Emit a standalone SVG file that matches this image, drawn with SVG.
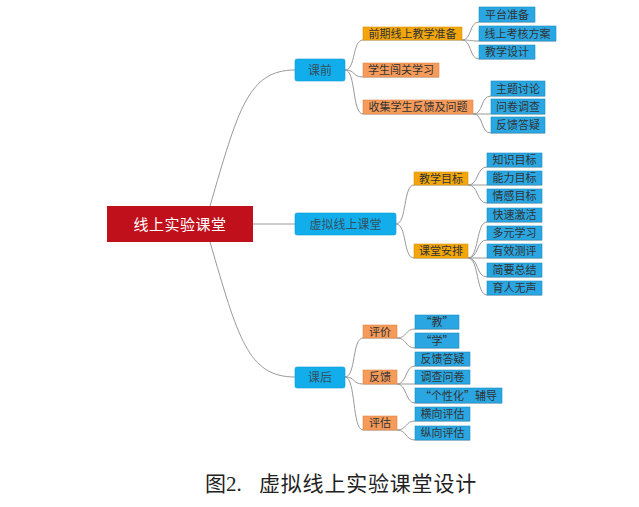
<svg xmlns="http://www.w3.org/2000/svg" width="639" height="507" viewBox="0 0 639 507">
<style>
text{font-family:"Noto Sans CJK SC","Noto Sans",sans-serif;text-anchor:middle;fill:#333;font-size:11px}
.main rect{fill:#12AEEC;stroke:#0E9BD4;stroke-width:0.6}
.gold rect{fill:#F2A60C;stroke:#D99200;stroke-width:0.6}
.org rect{fill:#F69B5A;stroke:#E0884A;stroke-width:0.6}
.leaf rect{fill:#2AA7E2;stroke:#1D8EC4;stroke-width:0.6}
.main text{font-size:12px;fill:#34505f}
#connectors path{fill:none;stroke:#9a9a9a;stroke-width:1}
</style>
<rect width="639" height="507" fill="#fff"/>
<g id="connectors">
<path d="M210 206 C238 110 248 70 295 70"/>
<path d="M210 242 C238 338 248 377 295 377"/>
<path d="M253 224 L295 224"/>
<path d="M345 70 C356 70 352 40 363 40 L462 40"/>
<path d="M345 70 C356 70 352 77 363 77 L439 77"/>
<path d="M345 70 C356 70 352 114 363 114 L473 114"/>
<path d="M462 40 C472 40 469 22 479 22 L535 22"/>
<path d="M462 40 C472 40 469 41 479 41 L556 41"/>
<path d="M462 40 C472 40 469 59 479 59 L535 59"/>
<path d="M473 114 C484 114 480 96 491 96 L545 96"/>
<path d="M473 114 L545 114"/>
<path d="M473 114 C484 114 480 133 491 133 L545 133"/>
<path d="M396 224 C407 224 403 185 414 185 L468 185"/>
<path d="M396 224 C407 224 403 258 414 258 L468 258"/>
<path d="M468 185 C479 185 476 167 487 167 L542 167"/>
<path d="M468 185 L542 185"/>
<path d="M468 185 C479 185 476 203 487 203 L542 203"/>
<path d="M468 258 C479 258 476 222 487 222 L542 222"/>
<path d="M468 258 C479 258 476 240 487 240 L542 240"/>
<path d="M468 258 L542 258"/>
<path d="M468 258 C479 258 476 277 487 277 L542 277"/>
<path d="M468 258 C479 258 476 295 487 295 L542 295"/>
<path d="M345 377 C356 377 352 338 363 338 L397 338"/>
<path d="M345 377 C356 377 352 384 363 384 L397 384"/>
<path d="M345 377 C356 377 352 430 363 430 L397 430"/>
<path d="M397 338 C407 338 405 329 415 329 L459 329"/>
<path d="M397 338 C407 338 405 348 415 348 L459 348"/>
<path d="M397 384 C407 384 405 366 415 366 L470 366"/>
<path d="M397 384 L470 384"/>
<path d="M397 384 C407 384 405 403 415 403 L502 403"/>
<path d="M397 430 C407 430 405 421 415 421 L470 421"/>
<path d="M397 430 C407 430 405 440 415 440 L470 440"/>
</g>
<g id="root"><rect x="107" y="206" width="146" height="36" fill="#C0101C"/><text x="180" y="229.5" style="font-size:15px;fill:#fff;letter-spacing:0.5px">线上实验课堂</text></g>
<g id="n-keqian" class="main"><rect x="295" y="59" width="50" height="22" rx="2"/><text x="320" y="74.5">课前</text></g>
<g id="n-xuni" class="main"><rect x="295" y="213" width="101" height="22" rx="2"/><text x="345.5" y="228.5">虚拟线上课堂</text></g>
<g id="n-kehou" class="main"><rect x="295" y="367" width="50" height="21" rx="2"/><text x="320" y="382">课后</text></g>
<g id="n-qianqi" class="gold"><rect x="363" y="27" width="99" height="13"/><text x="412.5" y="37.5">前期线上教学准备</text></g>
<g id="n-chuangguan" class="org"><rect x="363" y="63" width="76" height="14"/><text x="401" y="74">学生闯关学习</text></g>
<g id="n-shouji" class="org"><rect x="363" y="100" width="110" height="14"/><text x="418" y="111">收集学生反馈及问题</text></g>
<g id="n-pingtai" class="leaf"><rect x="479" y="7" width="56" height="15"/><text x="507" y="18.5">平台准备</text></g>
<g id="n-kaohe" class="leaf"><rect x="479" y="26" width="77" height="15"/><text x="517.5" y="37.5">线上考核方案</text></g>
<g id="n-sheji" class="leaf"><rect x="479" y="45" width="56" height="14"/><text x="507" y="56">教学设计</text></g>
<g id="n-zhuti" class="leaf"><rect x="491" y="81" width="54" height="15"/><text x="518" y="92.5">主题讨论</text></g>
<g id="n-wenjuan" class="leaf"><rect x="491" y="99" width="54" height="15"/><text x="518" y="110.5">问卷调查</text></g>
<g id="n-dayi1" class="leaf"><rect x="491" y="117" width="54" height="16"/><text x="518" y="129">反馈答疑</text></g>
<g id="n-mubiao" class="gold"><rect x="414" y="172" width="54" height="13"/><text x="441" y="182.5">教学目标</text></g>
<g id="n-anpai" class="gold"><rect x="414" y="244" width="54" height="14"/><text x="441" y="255">课堂安排</text></g>
<g id="n-zhishi" class="leaf"><rect x="487" y="153" width="55" height="14"/><text x="514.5" y="164">知识目标</text></g>
<g id="n-nengli" class="leaf"><rect x="487" y="171" width="55" height="14"/><text x="514.5" y="182">能力目标</text></g>
<g id="n-qinggan" class="leaf"><rect x="487" y="189" width="55" height="14"/><text x="514.5" y="200">情感目标</text></g>
<g id="n-jihuo" class="leaf"><rect x="487" y="208" width="55" height="14"/><text x="514.5" y="219">快速激活</text></g>
<g id="n-duoyuan" class="leaf"><rect x="487" y="226" width="55" height="14"/><text x="514.5" y="237">多元学习</text></g>
<g id="n-ceping" class="leaf"><rect x="487" y="244" width="55" height="14"/><text x="514.5" y="255">有效测评</text></g>
<g id="n-zongjie" class="leaf"><rect x="487" y="263" width="55" height="14"/><text x="514.5" y="274">简要总结</text></g>
<g id="n-yuren" class="leaf"><rect x="487" y="281" width="55" height="14"/><text x="514.5" y="292">育人无声</text></g>
<g id="n-pingjia" class="org"><rect x="363" y="325" width="34" height="13"/><text x="380" y="335.5">评价</text></g>
<g id="n-fankui" class="org"><rect x="363" y="370" width="34" height="14"/><text x="380" y="381">反馈</text></g>
<g id="n-pinggu" class="org"><rect x="363" y="416" width="34" height="14"/><text x="380" y="427">评估</text></g>
<g id="n-jiao" class="leaf"><rect x="415" y="315" width="44" height="14"/><text x="437" y="326">“教”</text></g>
<g id="n-xue" class="leaf"><rect x="415" y="333" width="44" height="15"/><text x="437" y="344.5">“学”</text></g>
<g id="n-dayi2" class="leaf"><rect x="415" y="352" width="55" height="14"/><text x="442.5" y="363">反馈答疑</text></g>
<g id="n-diaocha" class="leaf"><rect x="415" y="370" width="55" height="14"/><text x="442.5" y="381">调查问卷</text></g>
<g id="n-gexing" class="leaf"><rect x="415" y="388" width="87" height="15"/><text x="458.5" y="399.5">“个性化”辅导</text></g>
<g id="n-hengxiang" class="leaf"><rect x="415" y="407" width="55" height="14"/><text x="442.5" y="418">横向评估</text></g>
<g id="n-zongxiang" class="leaf"><rect x="415" y="426" width="55" height="14"/><text x="442.5" y="437">纵向评估</text></g>
<text x="205" y="491" style="text-anchor:start;font-size:21px;font-family:'Liberation Serif','Noto Sans CJK SC',serif;fill:#222">图2.<tspan x="259" style="letter-spacing:0.8px">虚拟线上实验课堂设计</tspan></text>
</svg>
